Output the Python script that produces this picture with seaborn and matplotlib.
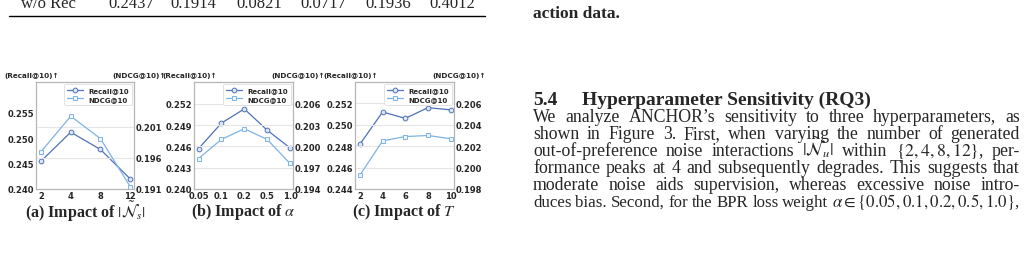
import numpy as np
import pandas as pd
import matplotlib
matplotlib.use("Agg")
import matplotlib.pyplot as plt
import seaborn as sns

# ---------------- data ----------------
n_labels = ["2", "4", "8", "12"]
n_recall = [0.2455, 0.2512, 0.2478, 0.2420]
n_ndcg = [0.1970, 0.2027, 0.1991, 0.1914]

alpha_labels = ["0.05", "0.1", "0.2", "0.5", "1.0"]
alpha_recall = [0.2457, 0.2493, 0.2513, 0.2483, 0.2458]
alpha_ndcg = [0.1983, 0.2010, 0.2025, 0.2010, 0.1976]

t_values = [2, 4, 6, 8, 10]
t_recall = [0.2482, 0.2512, 0.2506, 0.2516, 0.2514]
t_ndcg = [0.1993, 0.2025, 0.2029, 0.2030, 0.2027]

table_row = ["w/o Rec", "0.2437", "0.1914", "0.0821", "0.0717", "0.1936", "0.4012"]

captions = [r"(a) Impact of $|\tilde{\mathcal{N}}_s|$",
            r"(b) Impact of $\alpha$",
            r"(c) Impact of $T$"]

paragraph = [
    "We analyze ANCHOR\u2019s sensitivity to three hyperparameters, as",
    "shown in Figure 3. First, when varying the number of generated",
    r"out-of-preference noise interactions $|\tilde{\mathcal{N}}_u|$ within $\{2,4,8,12\}$, per-",
    "formance peaks at 4 and subsequently degrades. This suggests that",
    "moderate noise aids supervision, whereas excessive noise intro-",
    r"duces bias. Second, for the BPR loss weight $\alpha\in\{0.05,0.1,0.2,0.5,1.0\}$,",
]

# ---------------- style ----------------
sns.set_theme(style="white")
plt.rcParams["font.family"] = ["DejaVu Sans"]
plt.rcParams["mathtext.fontset"] = "stix"

W, H = 1031, 255
fig = plt.figure(figsize=(W / 100, H / 100), dpi=100)

def px(x, y):
    return x / W, 1 - y / H

REC_C = "#4f72b8"
NDCG_C = "#7fb3e6"
SPINE_C = "#b5b5b5"
TICK_FS = 6.0

panels = [
    dict(left=36, right=134, xs=list(range(len(n_labels))), xt=n_labels,
         rec=n_recall, nd=n_ndcg, xlim=(-0.17, 3.13),
         yl=(0.240, 0.2611), ylt=[0.240, 0.245, 0.250, 0.255],
         yr=(0.191, 0.2082), yrt=[0.191, 0.196, 0.201]),
    dict(left=194, right=293, xs=list(range(len(alpha_labels))), xt=alpha_labels,
         rec=alpha_recall, nd=alpha_ndcg, xlim=(-0.2, 4.13),
         yl=(0.240, 0.2551), ylt=[0.240, 0.243, 0.246, 0.249, 0.252],
         yr=(0.194, 0.2091), yrt=[0.194, 0.197, 0.200, 0.203, 0.206]),
    dict(left=355, right=454, xs=t_values, xt=[str(v) for v in t_values],
         rec=t_recall, nd=t_ndcg, xlim=(1.56, 10.3),
         yl=(0.244, 0.2540), ylt=[0.244, 0.246, 0.248, 0.250, 0.252],
         yr=(0.198, 0.2080), yrt=[0.198, 0.200, 0.202, 0.204, 0.206]),
]

top_px, bot_px = 83, 190
for i, p in enumerate(panels):
    l, b = px(p["left"], bot_px)
    w = (p["right"] - p["left"]) / W
    h = (bot_px - top_px) / H
    ax = fig.add_axes([l, b, w, h])
    ax2 = ax.twinx()
    df = pd.DataFrame({"x": p["xs"], "rec": p["rec"], "nd": p["nd"]})
    sns.lineplot(data=df, x="x", y="rec", ax=ax, color=REC_C, lw=0.9,
                 marker="o", markersize=3.4, markerfacecolor="#dfe6f4",
                 markeredgecolor=REC_C, markeredgewidth=0.7, label="Recall@10",
                 legend=False)
    sns.lineplot(data=df, x="x", y="nd", ax=ax2, color=NDCG_C, lw=0.9,
                 marker="s", markersize=3.2, markerfacecolor="#eef5fc",
                 markeredgecolor=NDCG_C, markeredgewidth=0.7, label="NDCG@10",
                 legend=False)
    ax.set_xlim(*p["xlim"])
    ax.set_ylim(*p["yl"])
    ax2.set_ylim(*p["yr"])
    ax.set_xticks(p["xs"])
    ax.set_xticklabels(p["xt"])
    ax.set_yticks(p["ylt"])
    ax.set_yticklabels([f"{v:.3f}" for v in p["ylt"]])
    ax2.set_yticks(p["yrt"])
    ax2.set_yticklabels([f"{v:.3f}" for v in p["yrt"]])
    ax.set_xlabel("")
    ax.set_ylabel("")
    ax2.set_ylabel("")
    ax2.grid(axis="y", color="#e6e6e6", lw=0.8)
    ax2.set_axisbelow(True)
    ax.grid(False)
    for a in (ax, ax2):
        for s in a.spines.values():
            s.set_color(SPINE_C)
            s.set_linewidth(0.8)
        a.tick_params(length=0, pad=1.5, labelsize=TICK_FS)
        for t in a.get_xticklabels() + a.get_yticklabels():
            t.set_fontweight("bold")
    ax.text(-0.045, 1.035, "(Recall@10)\u2191", transform=ax.transAxes,
            ha="center", va="bottom", fontsize=5.2, fontweight="bold")
    ax2.text(1.05, 1.035, "(NDCG@10)\u2191", transform=ax.transAxes,
             ha="center", va="bottom", fontsize=5.2, fontweight="bold")
    h1, l1 = ax.get_legend_handles_labels()
    h2, l2 = ax2.get_legend_handles_labels()
    leg = ax2.legend(h1 + h2, ["Recall@10", "NDCG@10"], loc="upper right",
                     prop=dict(size=5.0, weight="bold"), frameon=True,
                     fancybox=True, framealpha=1, edgecolor="#dddddd",
                     borderpad=0.45, handlelength=2.2, labelspacing=0.35,
                     borderaxespad=0.3)
    leg.get_frame().set_linewidth(0.6)
    cx = (p["left"] + p["right"]) / 2
    fig.text(*px(cx, 212), captions[i], ha="center", va="center",
             fontsize=11.5, fontweight="bold", family="Liberation Serif")

# ---------------- surrounding page text ----------------
SERIF = "Liberation Serif"
row_x = [48.5, 131.5, 193, 259.5, 323.5, 388, 452]
for x, s in zip(row_x, table_row):
    fig.text(*px(x, 8), s, ha="center", va="baseline", fontsize=12, family=SERIF)
fig.add_artist(plt.Line2D([9 / W, 485 / W], [1 - 17 / H] * 2, color="black", lw=1.0))

fig.text(*px(533, 18), "action data.", ha="left", va="baseline", fontsize=12.5,
         fontweight="bold", family=SERIF)
fig.text(*px(533, 105), "5.4", ha="left", va="baseline", fontsize=14,
         fontweight="bold", family=SERIF)
fig.text(*px(582, 105), "Hyperparameter Sensitivity (RQ3)", ha="left", va="baseline",
         fontsize=14, fontweight="bold", family=SERIF)

renderer = fig.canvas.get_renderer()
x0, x1 = 533, 1020
line_y = [118, 135, 152, 169, 186, 203]
for y, line in zip(line_y, paragraph):
    words = []
    buf = ""
    inmath = False
    for ch in line:
        if ch == "$":
            inmath = not inmath
            buf += ch
        elif ch == " " and not inmath:
            if buf:
                words.append(buf)
            buf = ""
        else:
            buf += ch
    if buf:
        words.append(buf)
    fs = 12.8
    while True:
        texts = [fig.text(0, 0, wd, ha="left", va="baseline", fontsize=fs, family=SERIF)
                 for wd in words]
        widths = [t.get_window_extent(renderer).width for t in texts]
        gap = (x1 - x0 - sum(widths)) / max(len(words) - 1, 1)
        if gap >= 3.0 or fs < 9:
            break
        for t in texts:
            t.remove()
        fs -= 0.2
    xc = x0
    for t, wdt in zip(texts, widths):
        t.set_position(px(xc, y + 4))
        xc += wdt + gap

fig.savefig("out.png", dpi=100)
